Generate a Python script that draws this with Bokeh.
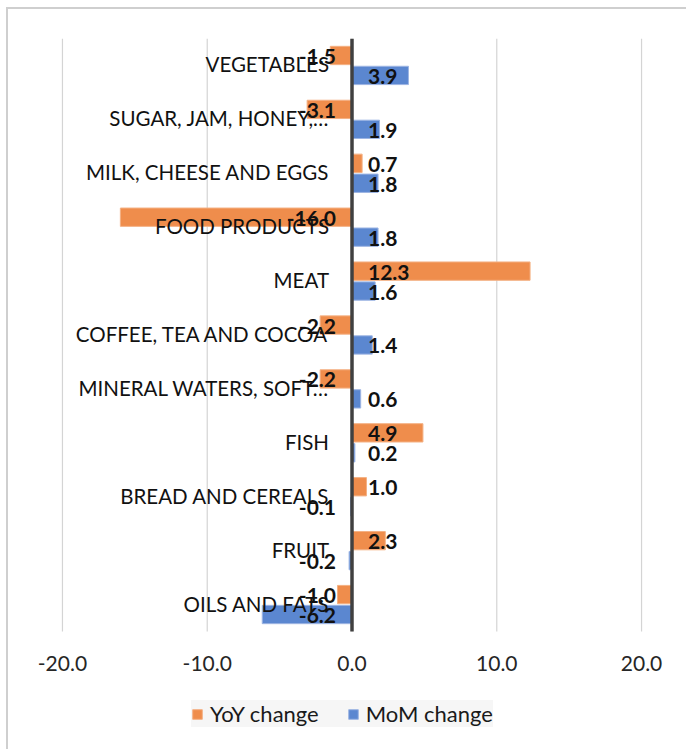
from bokeh.plotting import figure
from bokeh.models import (ColumnDataSource, FixedTicker, NumeralTickFormatter,
                          Legend, LegendItem, Range1d, LinearAxis)
from bokeh.layouts import column
from bokeh.embed import file_html
from bokeh.resources import INLINE
from bokeh.core.properties import value

# ---- data (top to bottom as in the chart) ----
categories = ["VEGETABLES", "SUGAR, JAM, HONEY,…", "MILK, CHEESE AND EGGS", "FOOD PRODUCTS",
              "MEAT", "COFFEE, TEA AND COCOA", "MINERAL WATERS, SOFT…", "FISH",
              "BREAD AND CEREALS", "FRUIT", "OILS AND FATS"]
yoy = [-1.5, -3.1, 0.7, -16.0, 12.3, -2.2, -2.2, 4.9, 1.0, 2.3, -1.0]
mom = [3.9, 1.9, 1.8, 1.8, 1.6, 1.4, 0.6, 0.2, -0.1, -0.2, -6.2]
x_ticks = [-20, -10, 0, 10, 20]
series_names = ["YoY change", "MoM change"]

FONT = "Lato"
ORANGE = "#EF8D4C"
BLUE = "#5B87D0"
n = len(categories)
D = 0.185   # offset of each series from the category centre
H = 0.34    # bar thickness (category units)

ys = [n - 0.5 - i for i in range(n)]          # category centres, first at top

def label_cols(vals, shift):
    return dict(y=[y + shift for y in ys],
                txt=["{:.1f}".format(v) for v in vals],
                align=["left" if v >= 0 else "right" for v in vals],
                off=[16 if v >= 0 else -16 for v in vals])

src = ColumnDataSource(dict(cat=categories, y=ys, y_yoy=[y + D for y in ys],
                            y_mom=[y - D for y in ys], yoy=yoy, mom=mom))
src_yoy = ColumnDataSource(label_cols(yoy, D))
src_mom = ColumnDataSource(label_cols(mom, -D))
src_grid = ColumnDataSource(dict(x=x_ticks, y0=[0] * len(x_ticks), y1=[n] * len(x_ticks)))

FRAME_H = 711
unit = 593 / n
p = figure(frame_width=637, frame_height=FRAME_H, output_backend="svg", toolbar_location=None,
           x_range=Range1d(-22, 22), y_range=Range1d(n - FRAME_H / unit, n),
           x_axis_location=None, y_axis_location=None,
           min_border_left=25, min_border_right=16, min_border_top=29, min_border_bottom=0)
p.outline_line_color = None
p.background_fill_color = "white"
p.border_fill_color = "white"
p.xgrid.grid_line_color = None
p.ygrid.grid_line_color = None

# x axis (drawn just under the bars)
ax = LinearAxis(ticker=FixedTicker(ticks=x_ticks), formatter=NumeralTickFormatter(format="0.0"),
                fixed_location=-0.8)
ax.axis_line_color = None
ax.major_tick_line_color = None
ax.minor_tick_line_color = None
ax.major_tick_out = 0
ax.major_tick_in = 0
ax.minor_tick_out = 0
ax.major_label_text_font = FONT
ax.major_label_text_font_size = "21px"
ax.major_label_text_color = "#262626"
ax.major_label_standoff = 4
p.add_layout(ax, "above")

# vertical gridlines over the category area
p.segment(x0="x", x1="x", y0="y0", y1="y1", source=src_grid, line_color="#D4D4D4", line_width=1.2)

r1 = p.hbar(y="y_yoy", right="yoy", left=0, height=H, source=src,
            fill_color=ORANGE, line_color="#F4B184", line_width=1)
r2 = p.hbar(y="y_mom", right="mom", left=0, height=H, source=src,
            fill_color=BLUE, line_color="#9DB5E3", line_width=1)

# zero axis line
p.segment(x0=0, x1=0, y0=0, y1=n, line_color="#404040", line_width=3.5)

# category labels next to the zero axis
p.text(x=0, y="y", text="cat", source=src, x_offset=-23, y_offset=-1, text_align="right",
       text_baseline="middle", text_font=value(FONT), text_font_size="20.5px",
       text_color="#111111")

# data labels
for s in (src_yoy, src_mom):
    p.text(x=0, y="y", text="txt", source=s, x_offset="off", y_offset=1,
           text_align="align", text_baseline="middle", text_font=value(FONT),
           text_font_size="21px", text_font_style="bold", text_color="#111111")

legend = Legend(items=[LegendItem(label=series_names[0], renderers=[r1]),
                       LegendItem(label=series_names[1], renderers=[r2])],
                orientation="horizontal", location=(158, 22))
legend.label_text_font = FONT
legend.label_text_font_size = "22px"
legend.label_text_color = "#1a1a1a"
legend.label_height = 25
legend.glyph_width = 12
legend.glyph_height = 12
legend.label_standoff = 7
legend.spacing = 28
legend.padding = 9
legend.margin = 0
legend.background_fill_color = "#F5F5F5"
legend.border_line_color = None
p.add_layout(legend, "center")

layout = column(p, styles={"border-left": "2px solid #CFCFCF", "border-top": "2px solid #CFCFCF",
                           "margin-left": "6px", "margin-top": "7px"})

open("out.html", "w").write(file_html(layout, INLINE))
